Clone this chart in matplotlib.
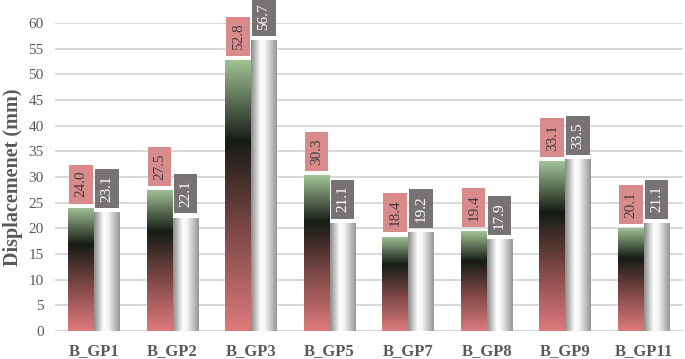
import numpy as np
import matplotlib
matplotlib.use("Agg")
import matplotlib.pyplot as plt
from matplotlib.colors import LinearSegmentedColormap
from matplotlib.patches import Rectangle

categories = ["B_GP1", "B_GP2", "B_GP3", "B_GP5", "B_GP7", "B_GP8", "B_GP9", "B_GP11"]
series_a = [24.0, 27.5, 52.8, 30.3, 18.4, 19.4, 33.1, 20.1]
series_b = [23.1, 22.1, 56.7, 21.1, 19.2, 17.9, 33.5, 21.1]
yticks = [0, 5, 10, 15, 20, 25, 30, 35, 40, 45, 50, 55, 60]

plt.rcParams['font.family'] = ['Liberation Serif', 'DejaVu Serif']

fig = plt.figure(figsize=(6.85, 3.59), dpi=100)
ax = fig.add_axes([0.080, 0.078, 0.917, 0.858])

x = np.arange(len(categories))
w = 0.33
bars_a = ax.bar(x - w / 2, series_a, width=w, color='none', zorder=3)
bars_b = ax.bar(x + w / 2, series_b, width=w, color='none', zorder=3)

cmap_a = LinearSegmentedColormap.from_list(
    'a', [(0.0, '#de7a7c'), (0.38, '#7a4644'), (0.70, '#161c15'), (1.0, '#a2c496')])
cmap_b = LinearSegmentedColormap.from_list(
    'b', [(0.0, '#8a8a8a'), (0.38, '#ffffff'), (0.55, '#f4f4f4'), (1.0, '#959595')])

grad_v = np.linspace(0, 1, 256).reshape(-1, 1)
grad_h = np.linspace(0, 1, 256).reshape(1, -1)

for b in bars_a:
    x0, y0 = b.get_x(), b.get_y()
    bw, bh = b.get_width(), b.get_height()
    im = ax.imshow(grad_v, cmap=cmap_a, origin='lower', aspect='auto',
                   extent=[x0, x0 + bw, y0, y0 + bh], zorder=3, interpolation='bicubic')
    im.set_clip_path(b)

for b in bars_b:
    x0, y0 = b.get_x(), b.get_y()
    bw, bh = b.get_width(), b.get_height()
    im = ax.imshow(grad_h, cmap=cmap_b, origin='lower', aspect='auto',
                   extent=[x0, x0 + bw, y0, y0 + bh], zorder=3, interpolation='bicubic')
    im.set_clip_path(b)

gap = 0.8
box_h = 7.6
box_w = 0.30


def label(xc, v, fc, tc):
    r = Rectangle((xc - box_w / 2, v + gap), box_w, box_h, fc=fc, ec='none',
                  zorder=5, clip_on=False)
    ax.add_patch(r)
    ax.text(xc, v + gap + box_h / 2, f"{v:.1f}", rotation=90, ha='center', va='center',
            fontsize=11, color=tc, zorder=6, clip_on=False)


for xi, v in zip(x, series_a):
    label(xi - w / 2, v, '#d98a8b', '#404040')
for xi, v in zip(x, series_b):
    label(xi + w / 2, v, '#767372', 'white')

ax.set_xlim(-0.5, len(categories) - 0.5)
ax.set_ylim(0, 60)
ax.set_yticks(yticks)
ax.set_xticks(x)
ax.set_xticklabels(categories, fontsize=12, fontweight='bold', color='#595959')
ax.tick_params(axis='y', labelsize=11, labelcolor='#595959', length=0, pad=8)
ax.tick_params(axis='x', length=0, pad=9)
ax.grid(axis='y', color='#d9d9d9', linewidth=1.5, zorder=0)
ax.set_axisbelow(True)
for s in ax.spines.values():
    s.set_visible(False)
ax.set_ylabel("Displacemenet (mm)", fontsize=14.5, fontweight='bold', color='#595959', labelpad=4)

fig.savefig("out.png", dpi=100)
